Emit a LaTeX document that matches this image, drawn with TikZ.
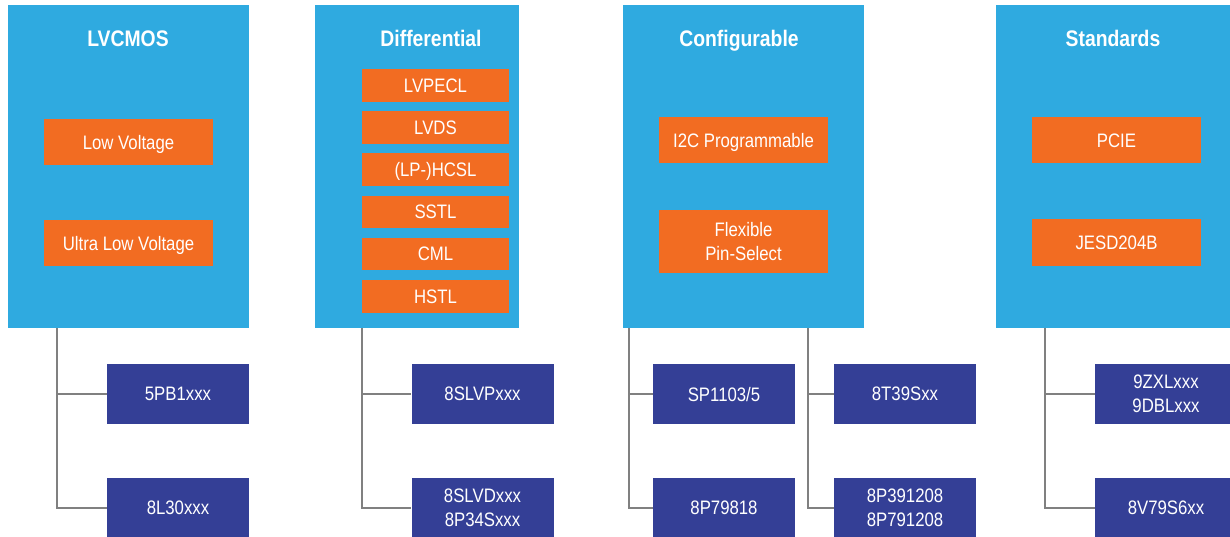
\documentclass[tikz,border=0pt]{standalone}
\usepackage{fontspec}
\setmainfont{Liberation Sans}[FakeStretch=0.86]
\definecolor{panelblue}{RGB}{47,170,224}
\definecolor{featorange}{RGB}{242,108,34}
\definecolor{partblue}{RGB}{52,63,150}
\definecolor{linkgray}{RGB}{128,128,128}

\begin{document}
\begin{tikzpicture}[x=1pt,y=-1pt]
    \tikzstyle{panel}=[fill=panelblue,inner sep=0pt,minimum height=323pt]
    \tikzstyle{title}=[text=white,text depth=0pt,font=\fontsize{22.5}{26}\selectfont\bfseries]
    \tikzstyle{feature}=[fill=featorange,text=white,inner sep=0pt,text depth=0pt,minimum width=169pt,minimum height=46pt,align=center,font=\fontsize{19.5}{24}\selectfont]
    \tikzstyle{signal}=[feature,minimum width=147pt,minimum height=32.5pt]
    \tikzstyle{part}=[fill=partblue,text=white,inner sep=0pt,text depth=0pt,minimum width=142pt,minimum height=60pt,align=center,font=\fontsize{19.5}{24}\selectfont]
    \tikzstyle{link}=[draw=linkgray,line width=2pt]

    \useasboundingbox (0,0) rectangle (1230,537);

    % Draw the four family panels
    \node[panel,minimum width=241pt] (P-1) at (128.5,166.5) {};
    \node[panel,minimum width=204pt] (P-2) at (417,166.5) {};
    \node[panel,minimum width=241pt] (P-3) at (743.5,166.5) {};
    \node[panel,minimum width=234pt] (P-4) at (1113,166.5) {};

    % Panel titles
    \node[title] (T-1) at (128,38.5) {LVCMOS};
    \node[title] (T-2) at (431,38.5) {Differential};
    \node[title] (T-3) at (739,38.5) {Configurable};
    \node[title] (T-4) at (1113,38.5) {Standards};

    % LVCMOS features
    \node[feature] (F-1-1) at (128.5,142) {Low Voltage};
    \node[feature] (F-1-2) at (128.5,243) {Ultra Low Voltage};

    % Differential signal types
    \foreach \name / \lbl in {1/LVPECL,2/LVDS,3/(LP-)HCSL,4/SSTL,5/CML,6/HSTL}
        \node[signal] (F-2-\name) at (435.5,85.3+42.2*\name-42.2) {\lbl};

    % Configurable features
    \node[feature] (F-3-1) at (743.5,140.5) {I2C Programmable};
    \node[feature,minimum height=63pt] (F-3-2) at (743.5,241.7) {Flexible\\Pin-Select};

    % Standards features
    \node[feature] (F-4-1) at (1116.5,140.5) {PCIE};
    \node[feature] (F-4-2) at (1116.5,242.5) {JESD204B};

    % Draw the part number boxes
    \node[part] (B-1-1) at (178,394) {5PB1xxx};
    \node[part] (B-1-2) at (178,508) {8L30xxx};
    \node[part] (B-2-1) at (482.5,394) {8SLVPxxx};
    \node[part] (B-2-2) at (482.5,508) {8SLVDxxx\\8P34Sxxx};
    \node[part] (B-3-1) at (724,394) {SP1103/5};
    \node[part] (B-3-2) at (724,508) {8P79818};
    \node[part] (B-5-1) at (905,394) {8T39Sxx};
    \node[part] (B-5-2) at (905,508) {8P391208\\8P791208};
    \node[part] (B-4-1) at (1166,394) {9ZXLxxx\\9DBLxxx};
    \node[part] (B-4-2) at (1166,508) {8V79S6xx};

    % Trunk points under the panels
    \coordinate (R-1) at (57,328);
    \coordinate (R-2) at (362,328);
    \coordinate (R-3) at (629,328);
    \coordinate (R-5) at (808,328);
    \coordinate (R-4) at (1045,328);

    % Connect every trunk with its two part boxes
    \foreach \source in {1,...,5}
        \foreach \dest in {1,2}
            \draw[link] (R-\source) |- (B-\source-\dest.west);
\end{tikzpicture}
\end{document}
